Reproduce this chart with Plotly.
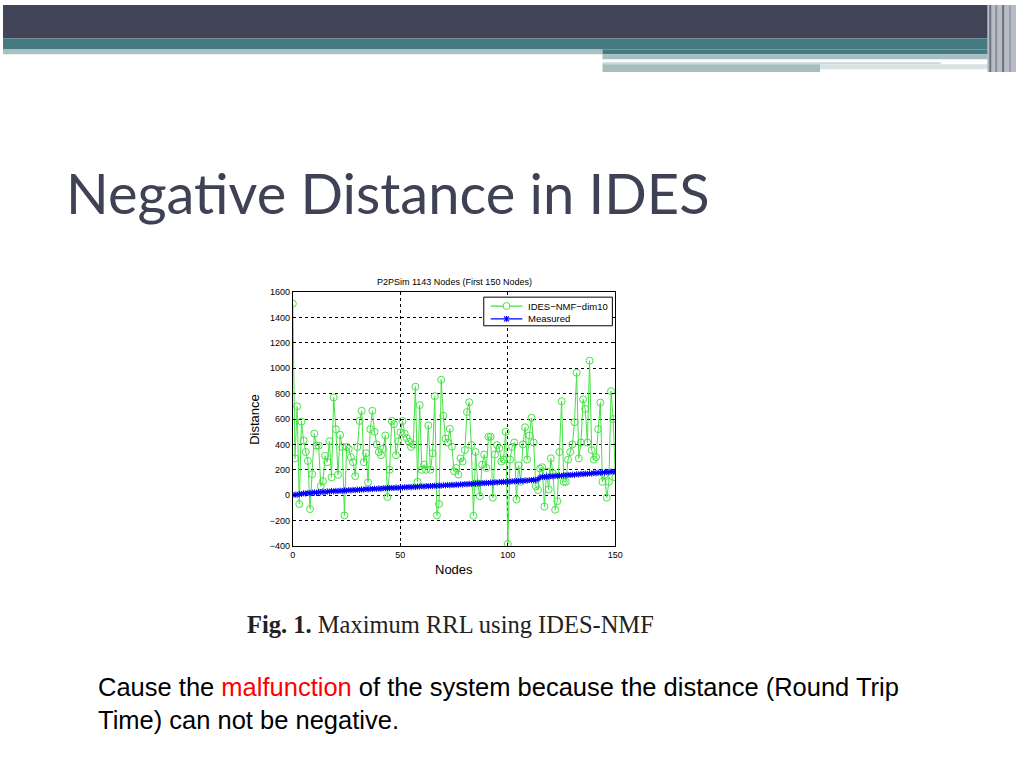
import plotly.graph_objects as go

# node index and the two series
nodes = list(range(151))

ides_nmf = [1510, 290, 700, -70, 580, 430, 340, 270, -110, 165,
            485, 390, 390, 70, 110, 310, 260, 425, 140, 770,
            520, 160, 475, 380, -160, 380, 365, 300, 260, 150,
            380, 585, 665, 260, 330, 100, 520, 665, 500, 400,
            340, 315, 365, 470, -15, 200, 585, 560, 315, 425,
            495, 585, 485, 450, 420, 380, 400, 855, 105, 710,
            200, 240, 200, 550, 200, 330, 780, -160, -70, 910,
            626, 445, 415, 523, 382, 188, 214, 162, 290, 265,
            355, 655, 733, 395, -163, 340, 93, -8, 240, 320,
            215, 460, 460, -20, 320, 395, 370, 265, 280, 500,
            -385, 280, 380, 415, -35, 235, 105, 400, 535, 280,
            470, 610, 415, 70, 40, 210, 220, -90, 185, 45,
            290, 170, -115, -48, 340, 740, 105, 105, 280, 340,
            400, 575, 965, 290, 415, 755, 680, 415, 1060, 355,
            280, 300, 520, 730, 105, 160, -20, 105, 820, 600,
            140]

measured = [0, 5, 2, 10, 8, 15, 12, 18, 14, 20,
            22, 18, 25, 21, 28, 24, 30, 27, 33, 29,
            34, 31, 36, 33, 38, 35, 40, 37, 42, 39,
            44, 41, 46, 43, 48, 45, 50, 47, 52, 49,
            53, 50, 55, 52, 57, 54, 58, 56, 60, 57,
            62, 59, 63, 61, 65, 62, 67, 64, 68, 66,
            70, 67, 72, 69, 73, 71, 75, 72, 77, 74,
            78, 76, 80, 77, 82, 79, 84, 81, 86, 83,
            88, 85, 90, 87, 92, 89, 94, 91, 96, 93,
            98, 95, 100, 97, 102, 99, 104, 101, 106, 103,
            108, 105, 110, 107, 112, 109, 114, 111, 117, 113,
            119, 116, 122, 118, 125, 140, 145, 142, 148, 145,
            150, 147, 153, 150, 155, 152, 158, 155, 160, 157,
            162, 159, 165, 162, 168, 165, 170, 167, 172, 169,
            175, 172, 178, 175, 180, 177, 183, 180, 186, 183,
            188]

series_names = ['IDES\u2212NMF\u2212dim10', 'Measured']
GREEN = '#45e245'
BLUE = '#0000ff'

W, H = 1024, 768


def px(x):
    return x / W


def py(y):
    return 1 - y / H


trace1 = go.Scatter(x=nodes, y=ides_nmf, mode='lines+markers', name=series_names[0],
                    line=dict(color=GREEN, width=1),
                    marker=dict(symbol='circle-open', size=7, color=GREEN, line=dict(width=1)))
trace2 = go.Scatter(x=nodes, y=measured, mode='lines+markers', name=series_names[1],
                    line=dict(color=BLUE, width=1.5),
                    marker=dict(symbol='asterisk-open', size=5, color=BLUE,
                                line=dict(color=BLUE, width=1)))

fig = go.Figure(data=[trace1, trace2])

axis_common = dict(showline=True, linecolor='black', linewidth=1, mirror='ticks',
                   ticks='inside', ticklen=3, tickcolor='black',
                   showgrid=True, gridcolor='black', griddash='dot', gridwidth=1,
                   zeroline=False, tickfont=dict(family='Liberation Sans', size=9, color='black'))

fig.update_layout(
    width=W, height=H, autosize=False,
    margin=dict(l=0, r=0, t=0, b=0),
    paper_bgcolor='white', plot_bgcolor='white',
    font=dict(family='Liberation Sans', color='black'),
    xaxis=dict(domain=[px(293), px(619)], range=[0, 150], tickvals=[0, 50, 100, 150], **axis_common),
    yaxis=dict(domain=[py(548), py(291)], range=[-400, 1600], dtick=200, **axis_common),
    showlegend=False,
)

# slide header bands
bands = [
    dict(x0=0, x1=1024, y0=0, y1=34, fillcolor='#414356'),
    dict(x0=0, x1=1024, y0=34, y1=45, fillcolor='#457b80'),
    dict(x0=0, x1=606, y0=45, y1=50, fillcolor='#a9c1c3'),
    dict(x0=606, x1=1000, y0=45, y1=50, fillcolor='#457b80'),
    dict(x0=606, x1=1000, y0=50, y1=55, fillcolor='#a6bec0'),
    dict(x0=606, x1=948, y0=58, y1=60, fillcolor='#c9d8d9'),
    dict(x0=606, x1=826, y0=60, y1=68, fillcolor='#a6bec0'),
    dict(x0=826, x1=1000, y0=60, y1=65, fillcolor='#d8e3e4'),
    dict(x0=995, x1=1024, y0=0, y1=68, fillcolor='#b8bcc4'),
    dict(x0=997, x1=999, y0=0, y1=68, fillcolor='#6d7080'),
    dict(x0=1003, x1=1005, y0=0, y1=68, fillcolor='#8a8e9a'),
    dict(x0=1010, x1=1012, y0=0, y1=68, fillcolor='#6d7080'),
    dict(x0=1017, x1=1019, y0=0, y1=68, fillcolor='#9a9eaa'),
]
for s in bands:
    fig.add_shape(type='rect', xref='paper', yref='paper',
                  x0=px(s['x0']), x1=px(s['x1']), y0=py(s['y1']), y1=py(s['y0']),
                  fillcolor=s['fillcolor'], line=dict(width=0), layer='above')

# compact MATLAB-style legend box
fig.add_shape(type='rect', xref='paper', yref='paper', x0=px(486), x1=px(616), y0=py(325), y1=py(296),
              fillcolor='white', line=dict(color='black', width=1), layer='above')
for name, colour, ly in [(series_names[0], GREEN, 305), (series_names[1], BLUE, 318)]:
    fig.add_shape(type='line', xref='paper', yref='paper', x0=px(493), x1=px(525), y0=py(ly), y1=py(ly),
                  line=dict(color=colour, width=1.2), layer='above')
    fig.add_annotation(xref='paper', yref='paper', x=px(529), y=py(ly), text=name, showarrow=False,
                       xanchor='left', yanchor='middle',
                       font=dict(family='Liberation Sans', size=9.5, color='black'))
fig.add_shape(type='circle', xref='paper', yref='paper', x0=px(505.5), x1=px(512.5), y0=py(308.5), y1=py(301.5),
              fillcolor='white', line=dict(color=GREEN, width=1), layer='above')
for dx, dy in [(0, 3), (2.5, 2.5), (-2.5, 2.5)]:
    fig.add_shape(type='line', xref='paper', yref='paper', x0=px(509 - dx), x1=px(509 + dx),
                  y0=py(318 - dy), y1=py(318 + dy), line=dict(color=BLUE, width=1.2), layer='above')

annotations = [
    dict(x=px(62), y=py(190), text='Negative Distance in IDES', xanchor='left', yanchor='middle',
         font=dict(family='Lato', size=56, color='#3f4155')),
    dict(x=px(456), y=py(281), text='P2PSim 1143 Nodes (First 150 Nodes)', xanchor='center', yanchor='middle',
         font=dict(family='Liberation Sans', size=9, color='black')),
    dict(x=px(254), y=py(420), text='Distance', textangle=-90, xanchor='center', yanchor='middle',
         font=dict(family='Liberation Sans', size=13, color='black')),
    dict(x=px(456), y=py(572), text='Nodes', xanchor='center', yanchor='middle',
         font=dict(family='Liberation Sans', size=13, color='black')),
    dict(x=px(245), y=py(628), text='<b>Fig. 1.</b> Maximum RRL using IDES-NMF', xanchor='left', yanchor='middle',
         font=dict(family='Liberation Serif', size=24.5, color='#222222')),
    dict(x=px(94), y=py(708),
         text='Cause the <span style="color:#ff0000">malfunction</span> of the system because the distance (Round Trip'
              '<br>Time) can not be negative.',
         xanchor='left', yanchor='middle', align='left',
         font=dict(family='Liberation Sans', size=25.5, color='black')),
]
for a in annotations:
    fig.add_annotation(xref='paper', yref='paper', showarrow=False, **a)

page_css = ("var st=document.createElement('style');"
            "st.textContent='html,body{margin:0;padding:0;overflow:hidden;width:1024px;height:768px;}';"
            "document.head.appendChild(st);")

fig.write_html("out.html", config={'displayModeBar': False}, post_script=page_css)
